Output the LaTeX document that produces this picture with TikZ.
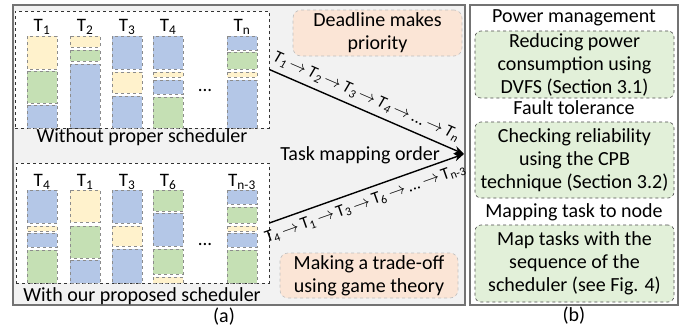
\documentclass[tikz,border=0pt]{standalone}
\usepackage{fontspec}
\setmainfont{Carlito}
\usepackage{tikz}
\usetikzlibrary{arrows.meta}

\definecolor{blueblk}{HTML}{B4C7E7}
\definecolor{greenblk}{HTML}{C5E0B4}
\definecolor{yelblk}{HTML}{FFF2CC}
\definecolor{orangebox}{HTML}{FBE5D6}
\definecolor{greenbox}{HTML}{E2F0D9}
\definecolor{panelgray}{HTML}{F2F2F2}

\newcommand{\tsub}[1]{T\textsubscript{#1}}
\newcommand{\tarr}{\,$\rightarrow$\,}

\begin{document}
\begin{tikzpicture}[x=1pt, y=-1pt,
	panel/.style={draw=black!55, line width=1.2pt},
	inbox/.style={draw=black!80, dashed, fill=white, line width=0.7pt},
	blk/.style={draw=black!45, dashed, line width=0.6pt},
	notebox/.style={draw=black!25, dashed, fill=orangebox, rounded corners=8pt, align=center, line width=0.6pt},
	stepbox/.style={draw=black!70, dashed, fill=greenbox, rounded corners=6pt, align=center, line width=0.6pt, minimum width=199pt},
	txt/.style={font=\fontsize{20}{23}\selectfont, inner sep=0pt},
	tlabel/.style={font=\fontsize{19}{21}\selectfont, inner sep=0pt},
	maparrow/.style={-{Stealth[length=10pt, width=8pt]}, line width=1.4pt}]
	\useasboundingbox (0,0) rectangle (689,327);

	% panels (a) and (b)
	\draw[panel, fill=panelgray] (13,5) rectangle (465,305);
	\draw[panel, fill=white] (470,5) rectangle (678,305);

	\node[inbox, minimum width=254pt, minimum height=117pt] (topbox) at (142,69.5) {};
	\node[inbox, minimum width=253pt, minimum height=120pt] (botbox) at (142.5,223) {};

	% columns without scheduler
	\foreach \x/\ya/\yb/\c in {27/36/69/yelblk, 27/71/103/greenblk, 27/105/128/blueblk,
		70/36/47/yelblk, 70/50/61/greenblk, 70/64/128/blueblk,
		112/36/69/blueblk, 112/72/93/yelblk, 112/96/128/blueblk,
		153/36/69/blueblk, 153/72/77/yelblk, 153/80/94/blueblk, 153/97/128/greenblk,
		227/36/50/blueblk, 227/52/69/greenblk, 227/72/77/yelblk, 227/80/128/blueblk}
		\draw[blk, fill=\c] (\x,\ya) rectangle (\x+30,\yb);

	% columns with our scheduler
	\foreach \x/\ya/\yb/\c in {27/190/223/blueblk, 27/226/231/yelblk, 27/233/247/blueblk, 27/250/283/greenblk,
		70/190/222/yelblk, 70/226/258/greenblk, 70/260/283/blueblk,
		112/190/223/blueblk, 112/226/246/yelblk, 112/249/283/blueblk,
		153/190/211/greenblk, 153/213/246/blueblk, 153/249/274/greenblk, 153/277/283/yelblk,
		227/190/204/blueblk, 227/207/223/greenblk, 227/226/231/yelblk, 227/233/247/blueblk, 227/250/283/greenblk}
		\draw[blk, fill=\c] (\x,\ya) rectangle (\x+30,\yb);

	\node[tlabel] (ta1) at (42,27) {\tsub{1}};
	\node[tlabel] (ta2) at (85,27) {\tsub{2}};
	\node[tlabel] (ta3) at (127,27) {\tsub{3}};
	\node[tlabel] (ta4) at (168,27) {\tsub{4}};
	\node[tlabel] (tan) at (242,27) {\tsub{n}};
	\node[tlabel] (tadots) at (205,90) {...};

	\node[tlabel] (tb4) at (42,182) {\tsub{4}};
	\node[tlabel] (tb1) at (85,182) {\tsub{1}};
	\node[tlabel] (tb3) at (127,182) {\tsub{3}};
	\node[tlabel] (tb6) at (168,182) {\tsub{6}};
	\node[tlabel] (tbn) at (242,182) {\tsub{n-3}};
	\node[tlabel] (tbdots) at (205,244) {...};

	\node[txt] (without) at (142,137) {Without proper scheduler};
	\node[txt] (withour) at (142,296) {With our proposed scheduler};

	\node[notebox, txt, minimum width=169pt, minimum height=46pt] (deadline) at (377.5,33) {Deadline makes\\priority};
	\node[notebox, txt, minimum width=178pt, minimum height=45pt] (tradeoff) at (369,275.5) {Making a trade-off\\using game theory};

	\node[txt] (order) at (360,155) {Task mapping order};

	\coordinate (meet) at (464,154);
	\draw[maparrow] (topbox.east) -- (meet)
		node[pos=0.47, sloped, above=6pt, inner sep=0pt, font=\fontsize{17}{19}\selectfont\itshape]
		{\tsub{1}\tarr\tsub{2}\tarr\tsub{3}\tarr\tsub{4}\tarr...\tarr\tsub{n}};
	\draw[maparrow] (botbox.east) -- (meet)
		node[pos=0.47, sloped, below=6pt, inner sep=0pt, font=\fontsize{17}{19}\selectfont]
		{\tsub{4}\tarr\tsub{1}\tarr\tsub{3}\tarr\tsub{6}\tarr...\tarr\tsub{n-3}};

	% panel (b)
	\node[txt] (power) at (574,18) {Power management};
	\node[stepbox, txt, minimum height=67pt] (dvfs) at (574.5,64.5) {Reducing power\\consumption using\\DVFS (Section 3.1)};
	\node[txt] (fault) at (574,108) {Fault tolerance};
	\node[stepbox, txt, minimum height=76pt] (cpb) at (574.5,160) {Checking reliability\\using the CPB\\technique (Section 3.2)};
	\node[txt] (mapping) at (574,212) {Mapping task to node};
	\node[stepbox, txt, minimum height=77pt] (mapnode) at (574.5,263.5) {Map tasks with the\\sequence of the\\scheduler (see Fig. 4)};

	\node[txt] (capa) at (224,317) {(a)};
	\node[txt] (capb) at (574,316) {(b)};
\end{tikzpicture}
\end{document}
